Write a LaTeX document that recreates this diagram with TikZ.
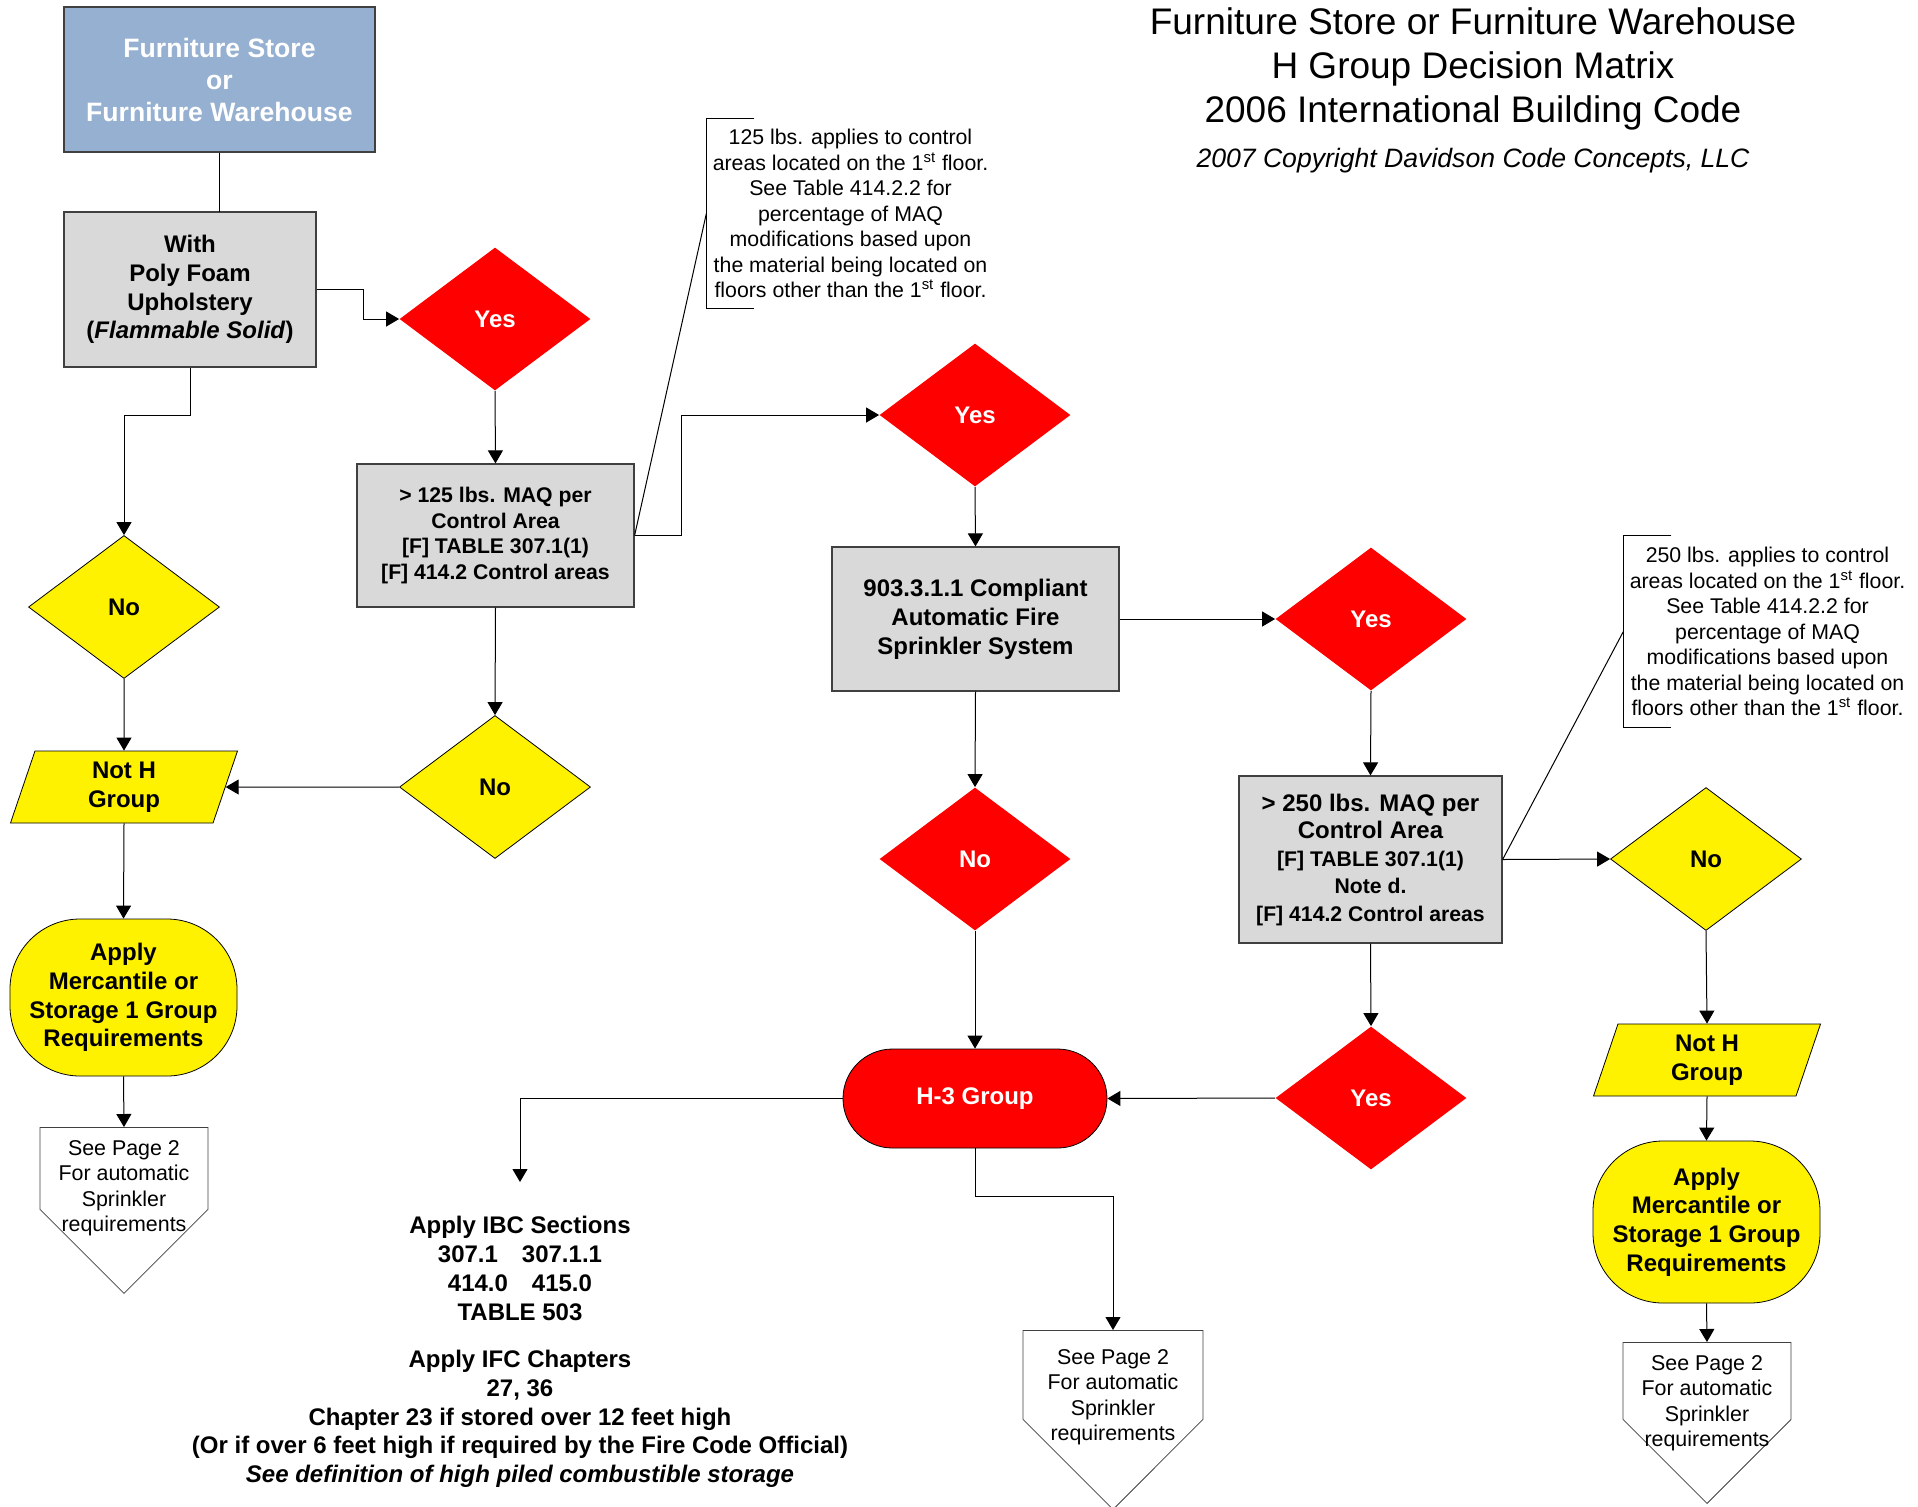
\documentclass[tikz,border=0pt]{standalone}
\usepackage{fontspec}
\setmainfont{Liberation Sans}
\usetikzlibrary{shapes.geometric,shapes.symbols,arrows.meta}
\definecolor{storeblue}{RGB}{149,176,208}
\definecolor{boxgray}{RGB}{217,217,217}

\begin{document}
\begin{tikzpicture}[x=0.5pt,y=-0.5pt,
    every node/.style={align=center,inner sep=0pt,font=\bfseries\fontsize{12}{14.35}\selectfont},
    store/.style={rectangle,draw=black!75,fill=storeblue,text=white,line width=0.6pt,
      minimum width=155.5pt,minimum height=72.5pt,font=\bfseries\fontsize{13.3}{16}\selectfont},
    box/.style={rectangle,draw=black!75,fill=boxgray,line width=0.6pt},
    yes/.style={diamond,fill=red,text=white,minimum width=95.5pt,minimum height=71.5pt},
    no/.style={diamond,draw=black,fill=yellow,line width=0.4pt,minimum width=95.5pt,minimum height=71.5pt},
    noth/.style={trapezium,trapezium left angle=64,trapezium right angle=116,trapezium stretches body,
      draw=black,fill=yellow,line width=0.4pt,minimum width=113.5pt,minimum height=36pt},
    apply/.style={rectangle,rounded corners=35pt,draw=black,fill=yellow,line width=0.4pt,
      minimum width=113.5pt,minimum height=78.5pt},
    hgroup/.style={rectangle,rounded corners=24.75pt,draw=black,fill=red,text=white,line width=0.4pt,
      minimum width=132pt,minimum height=49.5pt},
    offpage/.style={signal,signal to=south,signal pointer angle=90,draw=black!75,fill=white,
      line width=0.4pt,anchor=north},
    seetext/.style={font=\fontsize{10.7}{12.75}\selectfont},
    note/.style={inner xsep=3pt,font=\fontsize{10.65}{12.75}\selectfont},
    arr/.style={-{Triangle[length=6.5pt,width=7.5pt]},line width=0.5pt}]
  \useasboundingbox (0,0) rectangle (1918,1506);

  \node[font=\fontsize{18.5}{22}\selectfont] (title) at (1473,69)
    {Furniture Store or Furniture Warehouse\\H Group Decision Matrix\\2006 International Building Code};
  \node[font=\itshape\fontsize{13.3}{16}\selectfont] (copy) at (1473,161)
    {2007 Copyright Davidson Code Concepts, LLC};

  \node[store] (store) at (219.5,79.5) {Furniture Store\\or\\Furniture Warehouse};
  \node[box,minimum width=126pt,minimum height=77.5pt] (foam) at (190,289.5)
    {With\\Poly Foam\\Upholstery\\(\textit{Flammable Solid})};
  \node[yes] (yes1) at (495,319) {Yes};
  \node[box,minimum width=138.5pt,minimum height=71.5pt,font=\bfseries\fontsize{10.6}{12.85}\selectfont]
    (maq125) at (495.5,535.5) {> 125 lbs. MAQ per\\Control Area\\{[F]} TABLE 307.1(1)\\{[F]} 414.2 Control areas};
  \node[note,minimum height=94.5pt] (note125) at (850.5,213.5)
    {125 lbs. applies to control\\areas located on the 1\textsuperscript{st} floor.\\See Table 414.2.2 for\\percentage of MAQ\\modifications based upon\\the material being located on\\floors other than the 1\textsuperscript{st} floor.};
  \node[no] (no1) at (124,607) {No};
  \node[no] (no2) at (495,787) {No};
  \node[noth] (noth1) at (124,787) {Not H\\Group};
  \node[apply] (apply1) at (123.5,997.5) {Apply\\Mercantile or\\Storage 1 Group\\Requirements};
  \node[offpage,minimum width=84pt,minimum height=41pt,
    label={[seetext,yshift=-10pt]center:See Page 2\\For automatic\\Sprinkler\\requirements}] (see1) at (124,1127) {};

  \node[yes] (yes2) at (975,415) {Yes};
  \node[box,minimum width=143.5pt,minimum height=72pt,font=\bfseries\fontsize{12}{14.5}\selectfont]
    (sprk) at (975.5,619) {903.3.1.1 Compliant\\Automatic Fire\\Sprinkler System};
  \node[no,fill=red,draw=none,text=white] (no3) at (975,859) {No};
  \node[hgroup] (h3) at (975,1098.5) {H-3 Group};
  \node[offpage,minimum width=90pt,minimum height=44.5pt,
    label={[seetext,yshift=-11.25pt]center:See Page 2\\For automatic\\Sprinkler\\requirements}] (see2) at (1113,1330) {};
  \node (ibc) at (520,1352)
    {Apply IBC Sections\\307.1\quad 307.1.1\\414.0\quad 415.0\\TABLE 503\\[9.5pt]Apply IFC Chapters\\27, 36\\Chapter 23 if stored over 12 feet high\\(Or if over 6 feet high if required by the Fire Code Official)\\\textit{See definition of high piled combustible storage}};
  \coordinate (ibcend) at (520,1182);

  \node[yes] (yes3) at (1371,619) {Yes};
  \node[box,minimum width=131.5pt,minimum height=83.5pt,font=\bfseries\fontsize{12}{13.75}\selectfont]
    (maq250) at (1370.5,859.5) {> 250 lbs. MAQ per\\Control Area\\\fontsize{10.6}{13.75}\selectfont{[F]} TABLE 307.1(1)\\\fontsize{10.6}{13.75}\selectfont Note d.\\\fontsize{10.6}{13.75}\selectfont{[F]} 414.2 Control areas};
  \node[note,minimum height=95.5pt] (note250) at (1767.5,631.5)
    {250 lbs. applies to control\\areas located on the 1\textsuperscript{st} floor.\\See Table 414.2.2 for\\percentage of MAQ\\modifications based upon\\the material being located on\\floors other than the 1\textsuperscript{st} floor.};
  \node[yes] (yes4) at (1371,1098) {Yes};
  \node[no] (no4) at (1706,859) {No};
  \node[noth] (noth2) at (1707,1060) {Not H\\Group};
  \node[apply,minimum height=81pt] (apply2) at (1706.5,1222) {Apply\\Mercantile or\\Storage 1 Group\\Requirements};
  \node[offpage,minimum width=84pt,minimum height=38.5pt,
    label={[seetext,yshift=-11.25pt]center:See Page 2\\For automatic\\Sprinkler\\requirements}] (see3) at (1707,1342) {};

  \draw[line width=0.5pt] ([xshift=24pt]note125.north west) -- (note125.north west)
    -- (note125.south west) -- ([xshift=24pt]note125.south west);
  \draw[line width=0.5pt] ([xshift=24pt]note250.north west) -- (note250.north west)
    -- (note250.south west) -- ([xshift=24pt]note250.south west);
  \draw[line width=0.5pt] (maq125.east) -- (note125.west);
  \draw[line width=0.5pt] (maq250.east) -- (note250.west);

  \draw[line width=0.5pt] (store.south -| 219.5,0) -- (219.5,212);
  \draw[arr] (foam.east) -- ++(47,0) |- (yes1.west);
  \draw[arr] (foam.south) -- ++(0,48) -| (no1.north);
  \draw[arr] (yes1.south) -- (maq125.north);
  \draw[arr] (maq125.south) -- (no2.north);
  \draw[arr] (no2.west) -- (noth1.east);
  \draw[arr] (no1.south) -- (noth1.north);
  \draw[arr] (noth1.south) -- (apply1.north);
  \draw[arr] (apply1.south) -- (see1.north);
  \draw[arr] (maq125.east) -- ++(47,0) |- (yes2.west);
  \draw[arr] (yes2.south) -- (sprk.north);
  \draw[arr] (sprk.east) -- (yes3.west);
  \draw[arr] (sprk.south) -- (no3.north);
  \draw[arr] (no3.south) -- (h3.north);
  \draw[arr] (h3.west) -| (ibcend);
  \draw[arr] (h3.south) -- ++(0,48) -| (see2.north);
  \draw[arr] (yes3.south) -- (maq250.north);
  \draw[arr] (maq250.south) -- (yes4.north);
  \draw[arr] (yes4.west) -- (h3.east);
  \draw[arr] (maq250.east) -- (no4.west);
  \draw[arr] (no4.south) -- (noth2.north);
  \draw[arr] (noth2.south) -- (apply2.north);
  \draw[arr] (apply2.south) -- (see3.north);
\end{tikzpicture}
\end{document}
